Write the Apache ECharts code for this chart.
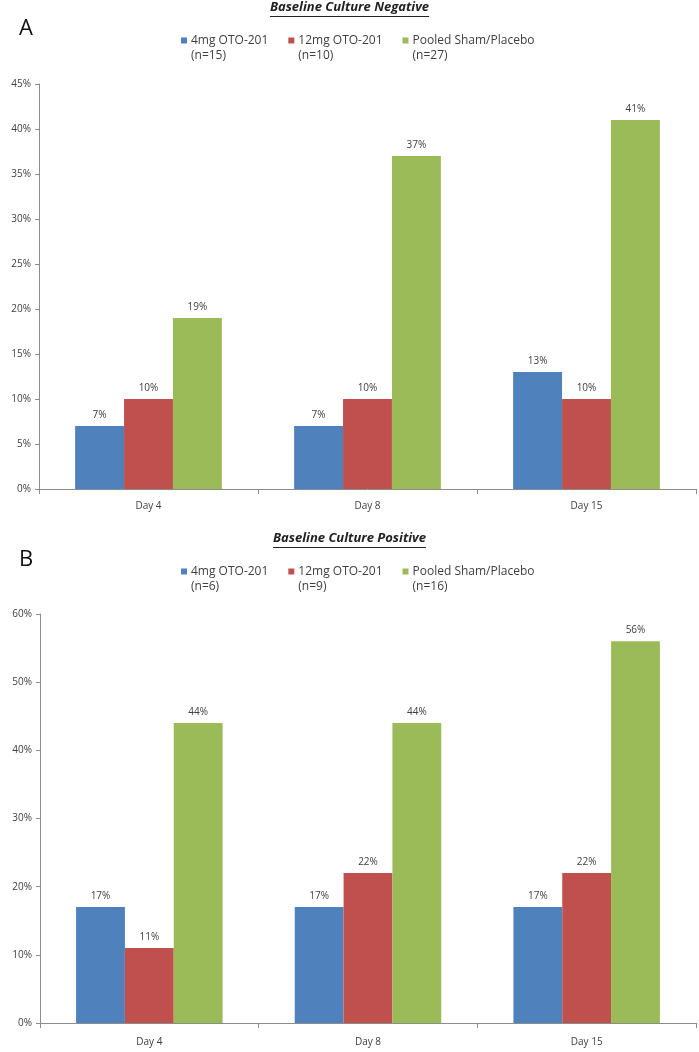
<!DOCTYPE html>
<html>
<head>
	<meta charset="utf-8" />
	<script src="https://cdn.jsdelivr.net/npm/echarts@6/dist/echarts.min.js"></script>
	<title>Baseline Culture</title>
	<style>
		html, body { margin: 0; padding: 0; background: #fff; }
		#c { width: 699px; height: 1052px; }
	</style>
</head>
<body>
	<div id="c"></div>
	<script>
		// data
		var days = ['Day 4', 'Day 8', 'Day 15'];
		var namesA = ['4mg OTO-201\n(n=15)', '12mg OTO-201\n(n=10)', 'Pooled Sham/Placebo\n(n=27)'];
		var namesB = ['4mg OTO-201\n(n=6)', '12mg OTO-201\n(n=9)', 'Pooled Sham/Placebo\n(n=16)'];
		var negLow = [7, 7, 13];
		var negHigh = [10, 10, 10];
		var negSham = [19, 37, 41];
		var posLow = [17, 17, 17];
		var posHigh = [11, 22, 22];
		var posSham = [44, 44, 56];
		var colors = ['#4F81BD', '#C0504D', '#9BBB59'];
		var titles = ['Baseline Culture Negative', 'Baseline Culture Positive'];

		var font = 'Open Sans';
		var txt = '#404040';
		var titleFont = 'italic bold 13px "Open Sans"';

		// width of the titles, for the underline
		var cv = document.createElement('canvas').getContext('2d');
		cv.font = titleFont;
		function underline(t, y) {
			var w = cv.measureText(t).width;
			return { type: 'line', shape: { x1: 349.5 - w / 2, y1: y, x2: 349.5 + w / 2, y2: y },
				style: { stroke: '#222', lineWidth: 1 } };
		}

		function bar(name, data, idx, color) {
			return {
				name: name,
				type: 'bar',
				xAxisIndex: idx,
				yAxisIndex: idx,
				data: data,
				barGap: '0%',
				barCategoryGap: '33%',
				itemStyle: { color: color },
				label: {
					show: true,
					position: 'top',
					distance: 6,
					formatter: '{c}%',
					fontFamily: font,
					fontSize: 10,
					color: txt
				}
			};
		}

		function legend(names, top) {
			return {
				data: names,
				left: 181,
				top: top,
				padding: 0,
				orient: 'horizontal',
				itemWidth: 6,
				itemHeight: 6,
				itemGap: 20,
				icon: 'rect',
				selectedMode: false,
				// blank first line keeps the marker level with the first text line
				formatter: function (n) { return '\n' + n; },
				textStyle: {
					fontFamily: font,
					fontSize: 12,
					color: txt,
					lineHeight: 15,
					padding: [0, 0, 0, -1]
				}
			};
		}

		function xAx(idx, margin) {
			return {
				type: 'category',
				gridIndex: idx,
				data: days,
				axisLine: { lineStyle: { color: '#8c8c8c' } },
				axisTick: { show: true, length: 5, lineStyle: { color: '#8c8c8c' } },
				axisLabel: { fontFamily: font, fontSize: 10, color: txt, margin: margin }
			};
		}

		function yAx(idx, max, step) {
			return {
				type: 'value',
				gridIndex: idx,
				min: 0,
				max: max,
				interval: step,
				axisLine: { show: true, lineStyle: { color: '#8c8c8c' } },
				axisTick: { show: true, length: 4, lineStyle: { color: '#8c8c8c' } },
				splitLine: { show: false },
				axisLabel: { fontFamily: font, fontSize: 10, color: txt, formatter: '{value}%', margin: 8 }
			};
		}

		var tStyle = { fontFamily: font, fontSize: 13, fontWeight: 'bold', fontStyle: 'italic', color: '#222' };
		var pStyle = { fontFamily: font, fontSize: 22, fontWeight: 'normal', color: '#111' };

		var chart = echarts.init(document.getElementById('c'));
		var option = {
			animation: false,
			title: [
				{ text: titles[0], left: 'center', top: 1, padding: 0, textStyle: tStyle },
				{ text: 'A', left: 19, top: 18, padding: 0, textStyle: pStyle },
				{ text: titles[1], left: 'center', top: 532, padding: 0, textStyle: tStyle },
				{ text: 'B', left: 19, top: 549, padding: 0, textStyle: pStyle }
			],
			graphic: [underline(titles[0], 16.5), underline(titles[1], 547.5)],
			legend: [legend(namesA, 18), legend(namesB, 549)],
			grid: [
				{ left: 39, right: 3, top: 84, bottom: 563 },
				{ left: 40, right: 3, top: 614, bottom: 29 }
			],
			xAxis: [xAx(0, 12), xAx(1, 14)],
			yAxis: [yAx(0, 45, 5), yAx(1, 60, 10)],
			series: [
				bar(namesA[0], negLow, 0, colors[0]),
				bar(namesA[1], negHigh, 0, colors[1]),
				bar(namesA[2], negSham, 0, colors[2]),
				bar(namesB[0], posLow, 1, colors[0]),
				bar(namesB[1], posHigh, 1, colors[1]),
				bar(namesB[2], posSham, 1, colors[2])
			]
		};
		chart.setOption(option);
	</script>
</body>
</html>
